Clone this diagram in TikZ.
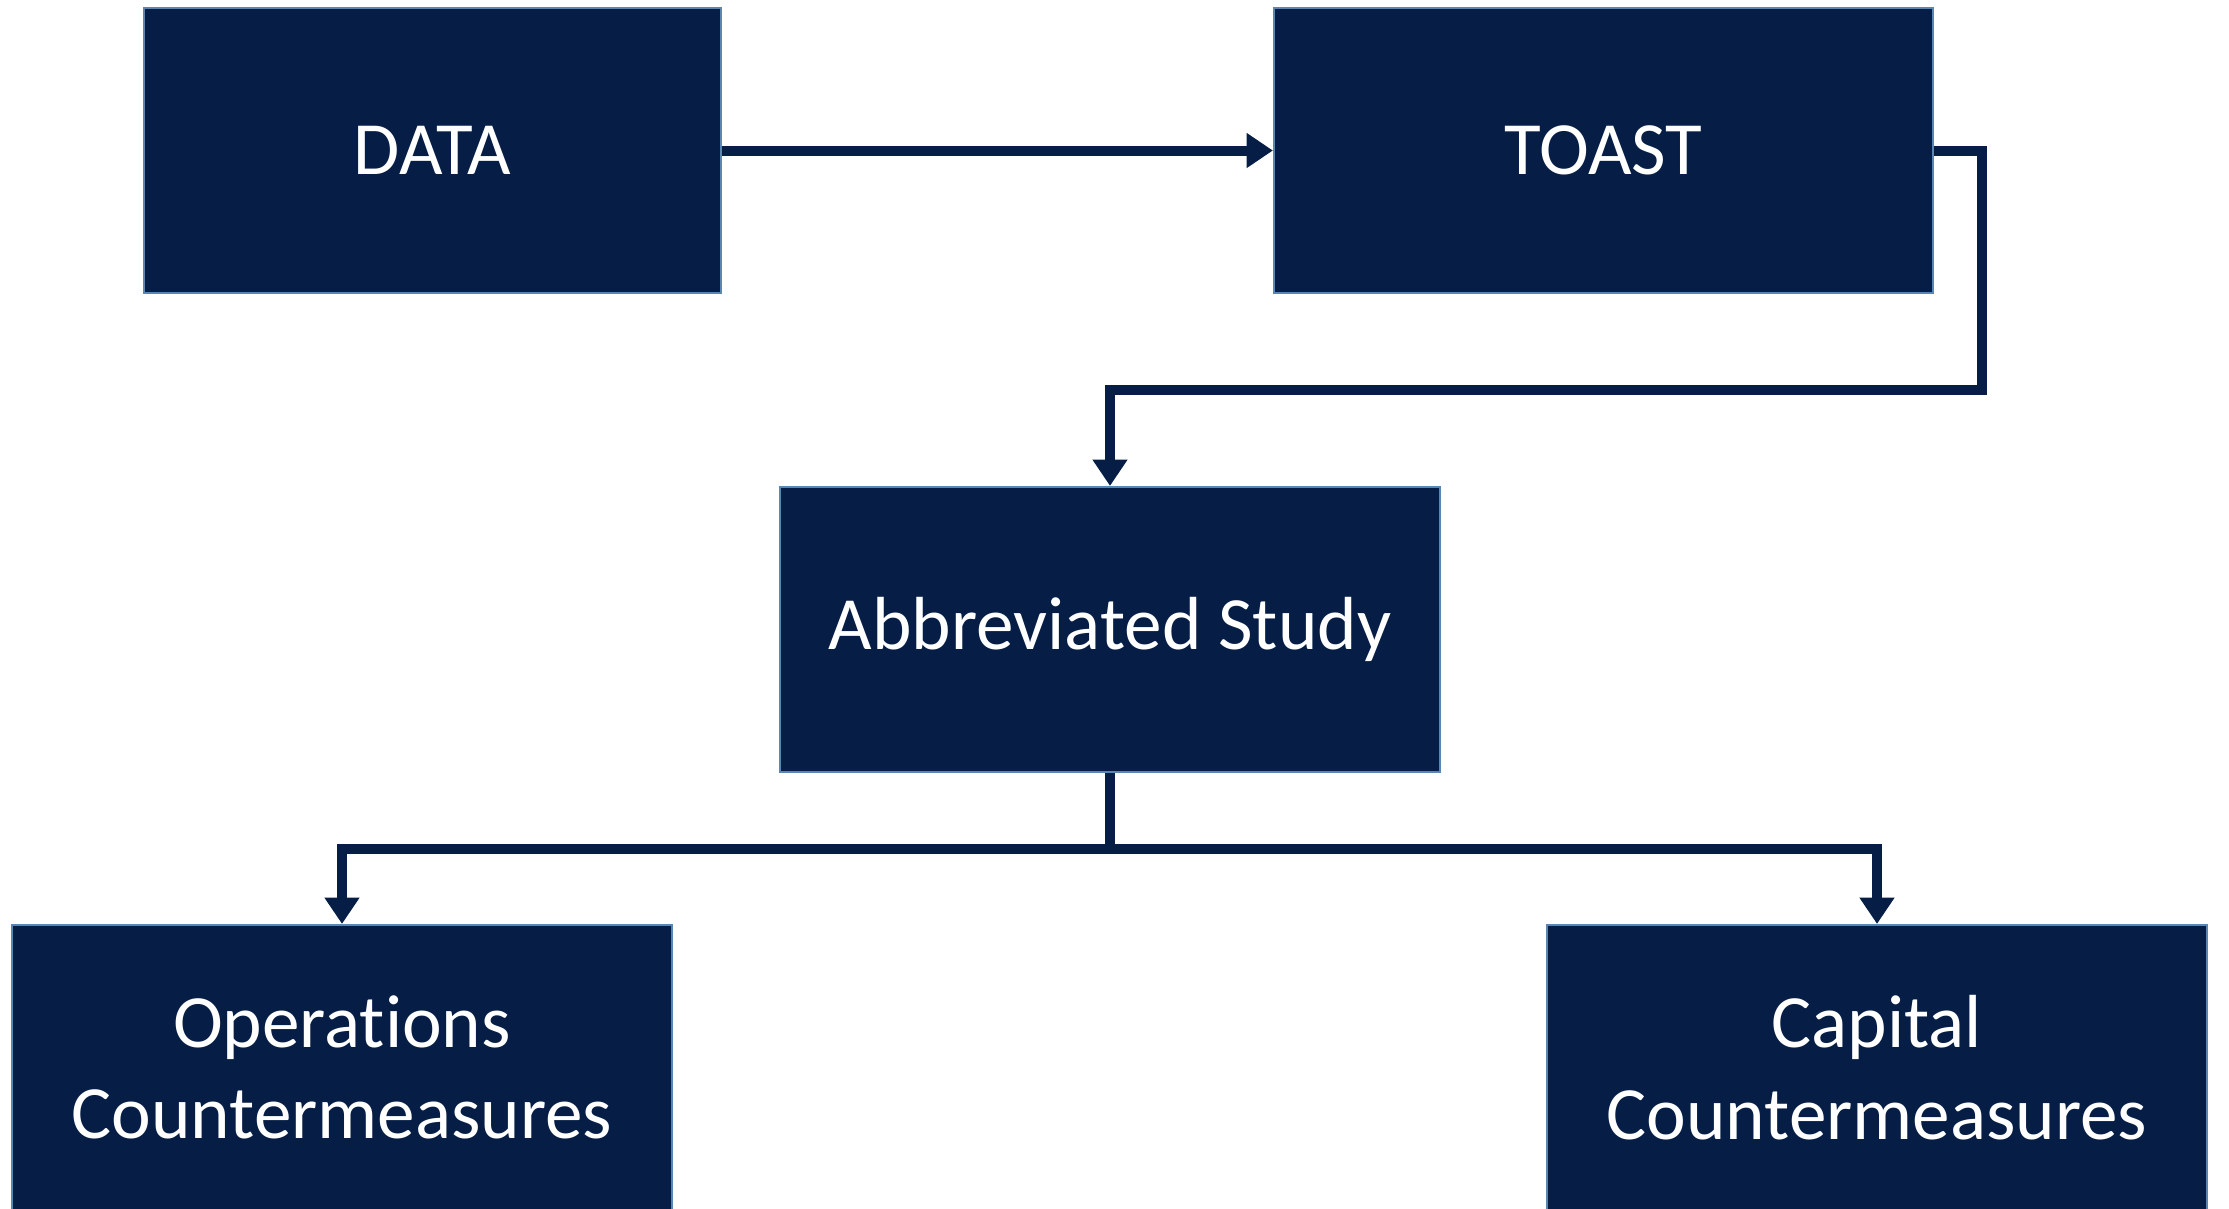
\documentclass[tikz,border=0pt]{standalone}
\usepackage{fontspec}
\setmainfont{Carlito}[Ligatures=NoCommon]
\usepackage{tikz}
\usetikzlibrary{arrows.meta}

\begin{document}
\begin{tikzpicture}
		[line cap=butt,
		%Styles
		stage/.style={draw=stageedge,line width=0.6pt,fill=stagefill,text=white,
			inner sep=0pt,minimum width=6.6cm,minimum height=2.85cm,align=center,
			font=\fontsize{21.4}{26}\selectfont},
		flow/.style={draw=stagefill,line width=2.85pt},
		flow tip/.style={flow,-{Triangle[width=9.5pt,length=7.5pt]}}
		]
		
		%Colors
		\definecolor{stagefill}{HTML}{061E46}	%box fill, connectors
		\definecolor{stageedge}{HTML}{5A86B4}	%box border
		
		\useasboundingbox (0,0) rectangle (22.29,-12.08);
		
		%The graphic
		\node[stage,minimum width=5.77cm] (data) at (4.325,-1.505) {DATA};
		\node[stage,minimum width=6.59cm] (toast) at (16.035,-1.505) {TOAST};
		\node[stage] (study) at (11.10,-6.295) {Abbreviated Study};
		\node[stage] (ops) at (3.42,-10.675) {Operations\\Countermeasures};
		\node[stage] (capital) at (18.77,-10.675) {Capital\\Countermeasures};
		
		\coordinate (turn) at (19.82,-3.90);
		\coordinate (split) at (11.10,-8.485);
		
		\draw[flow tip] (data.east) -- (toast.west);
		\draw[flow tip] (toast.east) -| (turn) -| (study.north);
		\draw[flow] (study.south) -- (split);
		\draw[flow tip] (split) -| (ops.north);
		\draw[flow tip] (split) -| (capital.north);
	\end{tikzpicture}
\end{document}
